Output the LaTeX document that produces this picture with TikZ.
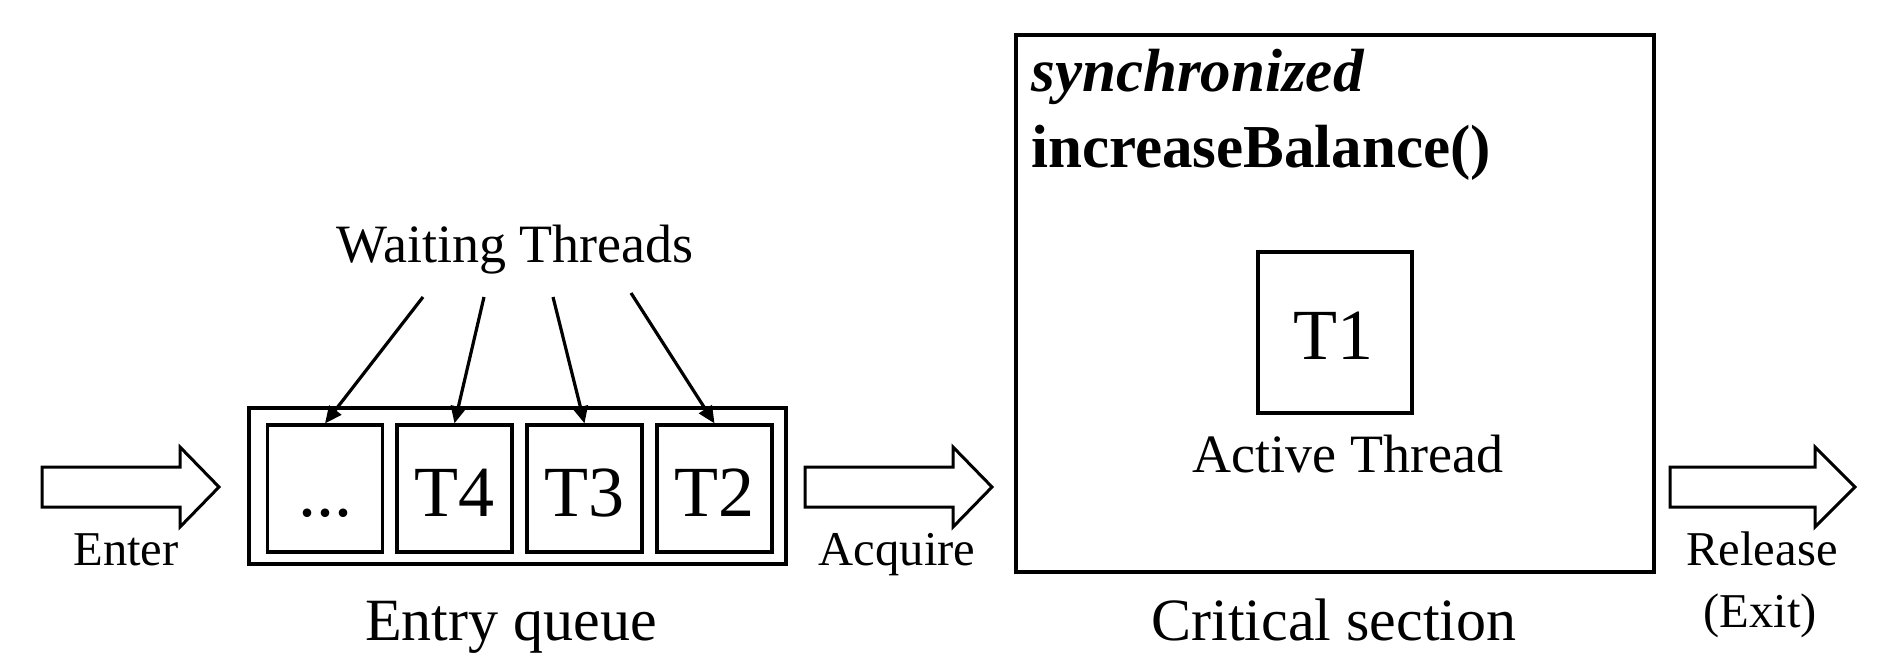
\documentclass[tikz,border=0pt]{standalone}
\usepackage{fontspec}
\setmainfont{Liberation Serif}
\usetikzlibrary{arrows.meta}
\newcommand{\fsz}[1]{\fontsize{#1}{#1}\selectfont}
\tikzset{
  boxline/.style={draw, line width=1.6pt, inner sep=0pt},
  qbox/.style={boxline, minimum width=57.5pt, minimum height=63.5pt},
  txt/.style={inner sep=0pt, anchor=base},
  bigtxt/.style={txt, font=\fsz{36pt}},
  captxt/.style={txt, font=\fsz{30pt}},
  midtxt/.style={txt, font=\fsz{27pt}},
  smalltxt/.style={txt, font=\fsz{24.3pt}},
  hollow/.style={draw, line width=1.5pt, line join=miter, fill=white},
  waitarrow/.style={line width=1.6pt, -{Triangle[length=8.5pt,width=7.5pt]}}
}
\begin{document}
\begin{tikzpicture}[x=0.5pt, y=-0.5pt]
\useasboundingbox (0,0) rectangle (1890,658);
% entry queue
\node[boxline, minimum width=268.5pt, minimum height=78pt] (queue) at (517.5,486) {};
\node[qbox] (b1) at (325,488.5) {};
\node[qbox] (b2) at (454.5,488.5) {};
\node[qbox] (b3) at (584.5,488.5) {};
\node[qbox] (b4) at (714.5,488.5) {};
\node[bigtxt] (t0) at (325,516) {...};
\node[bigtxt] (t4) at (454.5,516) {T4};
\node[bigtxt] (t3) at (584.5,516) {T3};
\node[bigtxt] (t2) at (714.5,516) {T2};
\node[captxt] (eq) at (511,640) {Entry queue};
% waiting threads
\node[midtxt] (wt) at (515,262) {Waiting Threads};
\coordinate (w1) at (423,297);
\coordinate (w2) at (484,297);
\coordinate (w3) at (553,297);
\coordinate (w4) at (631,293);
\draw[waitarrow] (w1) -- (b1.north);
\draw[waitarrow] (w2) -- (b2.north);
\draw[waitarrow] (w3) -- (b3.north);
\draw[waitarrow] (w4) -- (b4.north);
% hollow arrows
\draw[hollow] (42,467) -- (180,467) -- (180,447) -- (219,487) -- (180,527) -- (180,507) -- (42,507) -- cycle;
\draw[hollow] (805,467) -- (953,467) -- (953,447) -- (992,487) -- (953,527) -- (953,507) -- (805,507) -- cycle;
\draw[hollow] (1670,467) -- (1815,467) -- (1815,447) -- (1855,487) -- (1815,527) -- (1815,507) -- (1670,507) -- cycle;
\node[smalltxt] (enter) at (126,565) {Enter};
\node[smalltxt] (acq) at (897,565) {Acquire};
\node[smalltxt] (rel) at (1762,565) {Release};
\node[smalltxt] (exit) at (1760,627) {(Exit)};
% critical section
\node[boxline, minimum width=319pt, minimum height=268.5pt] (crit) at (1335,303.5) {};
\node[txt, anchor=base west, font=\fsz{30.5pt}\bfseries\itshape] (sync) at (1031,92) {synchronized};
\node[txt, anchor=base west, font=\fsz{30.5pt}\bfseries] (inc) at (1031,168) {increaseBalance()};
\node[boxline, minimum width=77pt, minimum height=80.5pt] (t1box) at (1335,332.5) {};
\node[bigtxt] (t1) at (1333,359) {T1};
\node[midtxt] (act) at (1348,472) {Active Thread};
\node[captxt] (cs) at (1334,640) {Critical section};
\end{tikzpicture}
\end{document}
